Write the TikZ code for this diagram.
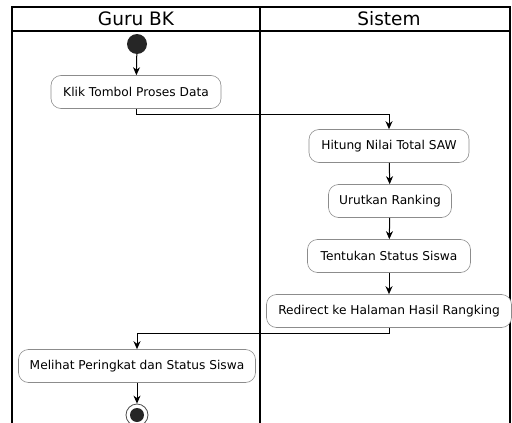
\documentclass[tikz,border=0pt]{standalone}
\usepackage{fontspec}
\setmainfont{DejaVu Sans}
\usetikzlibrary{arrows.meta}
\begin{document}
\begin{tikzpicture}[x=1pt,y=-1pt,
  lane/.style={line width=1.2pt,draw=black},
  act/.style={draw=black!45,line width=0.6pt,rounded corners=10pt,fill=white,
    minimum height=33pt,inner xsep=6pt,font=\fontsize{12.2}{14}\selectfont},
  flow/.style={line width=1pt,-{Stealth[length=8pt,width=7pt,inset=2.5pt]}},
  hdr/.style={font=\fontsize{18.5}{20}\selectfont}]
\useasboundingbox (0,0) rectangle (512,423);
% swimlane frame
\draw[lane] (12,423) -- (12,7) -- (510,7) -- (510,423);
\draw[lane] (12,31) -- (510,31);
\draw[lane] (260,7) -- (260,423);
\node[hdr] (h1) at (136,19) {Guru BK};
\node[hdr] (h2) at (389,19) {Sistem};
% nodes
\node[circle,fill=black!85,minimum size=20pt,inner sep=0] (start) at (137,44) {};
\node[act,minimum width=170pt] (a1) at (136,92) {Klik Tombol Proses Data};
\node[act,minimum width=160pt] (b1) at (389,146) {Hitung Nilai Total SAW};
\node[act,minimum width=123pt] (b2) at (390,201) {Urutkan Ranking};
\node[act,minimum width=163pt] (b3) at (389,256) {Tentukan Status Siswa};
\node[act,minimum width=245pt] (b4) at (389,311) {Redirect ke Halaman Hasil Rangking};
\node[act,minimum width=237pt] (a2) at (137,366) {Melihat Peringkat dan Status Siswa};
\node[circle,draw=black!70,line width=0.8pt,fill=white,minimum size=22pt,inner sep=0] (end) at (137,415) {};
\fill[black!85] (end.center) circle (7pt);
% flows
\draw[flow] (start) -- (a1);
\draw[flow] (a1.south) -- ++(0,6) -| (b1.north);
\draw[flow] (b1) -- (b2);
\draw[flow] (b2) -- (b3);
\draw[flow] (b3) -- (b4);
\draw[flow] (b4.south) -- ++(0,6) -| (a2.north);
\draw[flow] (a2) -- (end);
\end{tikzpicture}
\end{document}
